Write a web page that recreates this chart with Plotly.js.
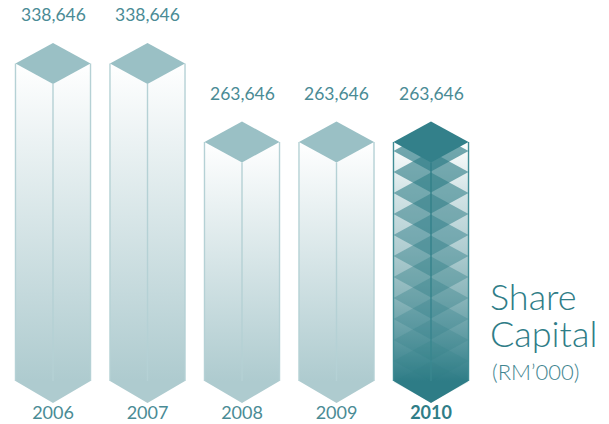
<!DOCTYPE html>
<html>
<head>
<meta charset="utf-8">
<script src="https://cdn.plot.ly/plotly-3.0.1.min.js"></script>
<style>html,body{margin:0;padding:0;background:#fff}</style>
</head>
<body>
<div id="chart" style="width:609px;height:424px"></div>
<script>
// Share capital by financial year, RM'000
const years = ['2006', '2007', '2008', '2009', '2010'];
const shareCapital = [338646, 338646, 263646, 263646, 263646];

// Axis scale: how many RM'000 one pixel of height stands for
const UNITS_PER_PX = 955.4;
const AXIS_FLOOR = 14287;
const AXIS_TOP = AXIS_FLOOR + 403 * UNITS_PER_PX;
const HALF_WIDTH = 0.397;                 // half a column, in category units
const RISE = 20.5 * UNITS_PER_PX;         // height of the isometric slant
const BASE_CORNER = AXIS_FLOOR + 22 * UNITS_PER_PX;
const STEP = 21 * UNITS_PER_PX;           // spacing of the stacked layers

const PALE_CAP = '#9ac0c5', PALE_EDGE = '#b5d1d5', PALE_BASE = '#aecbcf';
const DARK_CAP = '#33808a', DARK_EDGE = '#3f8c95', DARK_BASE = '#2f7d87';
const TEXT = '#4a8b95';

const traces = [];

function column(i, value, highlighted) {
  const l = i - HALF_WIDTH, r = i + HALF_WIDTH;
  // body: front faces with a pointed foot
  traces.push({
    x: [l, i, r, r, i, l, l],
    y: [value, value - RISE, value, BASE_CORNER, AXIS_FLOOR, BASE_CORNER, value],
    mode: 'lines', line: {width: 0}, fill: 'toself', hoverinfo: 'skip',
    fillcolor: highlighted ? DARK_BASE : PALE_BASE,
    fillgradient: {
      type: 'vertical', start: value, stop: BASE_CORNER,
      colorscale: highlighted
        ? [[0, '#ffffff'], [0.2, '#d5e5e7'], [0.45, '#b0cdd1'], [0.65, '#8ab5ba'], [0.82, '#5f9ba3'], [1, DARK_BASE]]
        : [[0, '#ffffff'], [1, PALE_BASE]]
    }
  });
  // vertical edges
  traces.push({
    x: [l, l, null, i, i, null, r, r],
    y: [value, BASE_CORNER, null, value - RISE, BASE_CORNER, null, value, BASE_CORNER],
    mode: 'lines', hoverinfo: 'skip',
    line: {width: 1.4, color: highlighted ? DARK_EDGE : PALE_EDGE}
  });
  // stacked translucent layers on the highlighted column, fading towards the foot
  if (highlighted) {
    for (let k = 0; k < 12; k++) {
      const c = value - 9 * UNITS_PER_PX - k * STEP;
      traces.push({
        x: [l, i, r, i, l],
        y: [c, c + RISE, c, c - RISE, c],
        mode: 'lines', line: {width: 0}, fill: 'toself', hoverinfo: 'skip',
        fillcolor: 'rgba(47,125,135,' + (0.68 - k * 0.05).toFixed(3) + ')'
      });
    }
  }
  // cap
  traces.push({
    x: [l, i, r, i, l],
    y: [value, value + RISE, value, value - RISE, value],
    mode: 'lines', line: {width: 0}, fill: 'toself', hoverinfo: 'skip',
    fillcolor: highlighted ? DARK_CAP : PALE_CAP
  });
}

shareCapital.forEach((v, i) => column(i, v, i === years.length - 1));

const FONT = 'Lato, sans-serif';
const note = (text, px, py, size, color, weight) => ({
  text, xref: 'paper', yref: 'paper', x: px / 609, y: (403 - py) / 403,
  xanchor: 'left', yanchor: 'middle', showarrow: false,
  font: {family: FONT, size, color, weight}
});

const annotations = shareCapital.map((v, i) => ({
  x: i, y: v, yshift: 49, showarrow: false, text: v.toLocaleString('en-US'),
  font: {family: FONT, size: 17.5, color: TEXT, weight: 400}
}));
annotations.push(note('Share', 488, 296, 36, '#2f7d87', 300));
annotations.push(note('Capital', 488, 333, 36, '#2f7d87', 300));
annotations.push(note('(RM’000)', 490, 371, 22, '#3f8590', 300));

Plotly.newPlot('chart', traces, {
  width: 609, height: 424,
  margin: {l: 0, r: 0, t: 0, b: 21, pad: 0},
  showlegend: false,
  paper_bgcolor: '#fff', plot_bgcolor: '#fff',
  xaxis: {
    range: [-53 / 94.5, 556 / 94.5], showgrid: false, zeroline: false, showline: false,
    tickmode: 'array', tickvals: years.map((_, i) => i),
    ticktext: years.map((y, i) => i === years.length - 1 ? '<b style="color:#2f7d87">' + y + '</b>' : y),
    ticks: '', ticklabelstandoff: -3,
    tickfont: {family: FONT, size: 18, color: TEXT, weight: 400}
  },
  yaxis: {range: [AXIS_FLOOR, AXIS_TOP], visible: false},
  annotations
}, {displayModeBar: false, staticPlot: true});
</script>
</body>
</html>
